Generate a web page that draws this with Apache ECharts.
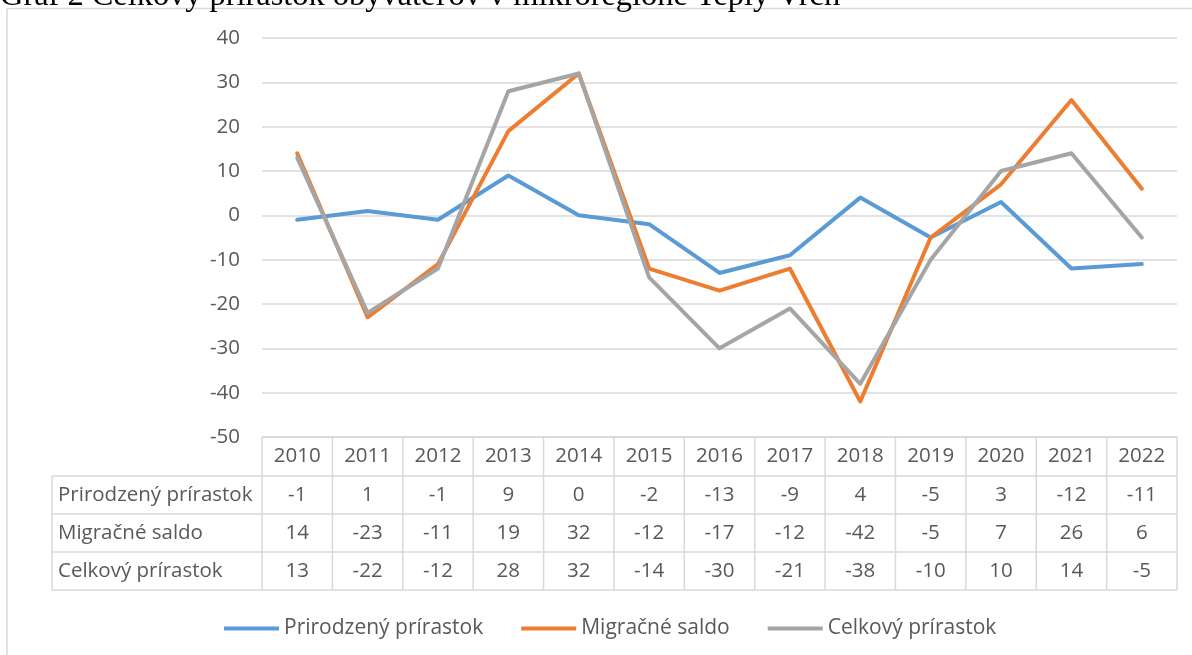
<!DOCTYPE html>
<html>
<head>
<meta charset="utf-8">
<script src="https://cdn.jsdelivr.net/npm/echarts@6/dist/echarts.min.js"></script>
<style>
  html, body { margin: 0; padding: 0; background: #fff; }
  #chart { width: 1192px; height: 655px; }
</style>
</head>
<body>
<div id="chart"></div>
<script>
const years = ['2010', '2011', '2012', '2013', '2014', '2015', '2016', '2017', '2018', '2019', '2020', '2021', '2022']
const prirodzeny = [-1, 1, -1, 9, 0, -2, -13, -9, 4, -5, 3, -12, -11]
const migracne = [14, -23, -11, 19, 32, -12, -17, -12, -42, -5, 7, 26, 6]
const celkovy = [13, -22, -12, 28, 32, -14, -30, -21, -38, -10, 10, 14, -5]
const seriesNames = ['Prirodzený prírastok', 'Migračné saldo', 'Celkový prírastok']
const colors = ['#5b9bd5', '#ed7d31', '#a5a5a5']
const yTicks = { min: -50, max: 40, interval: 10 }

const FONT = '"Open Sans", Lato, sans-serif'
const TXT = '#595959'
const BORDER = '#d9d9d9'

const chart = echarts.init(document.getElementById('chart'))
const lineSeries = [prirodzeny, migracne, celkovy].map((data, i) => ({
  name: seriesNames[i],
  type: 'line',
  data: data,
  symbol: 'none',
  lineStyle: { width: 4, color: colors[i], cap: 'round', join: 'round' },
  itemStyle: { color: colors[i] },
}))

chart.setOption({
  animation: false,
  grid: { left: 262, right: 15, top: 38, bottom: 218 },
  xAxis: {
    type: 'category',
    data: years,
    boundaryGap: true,
    axisLine: { show: false },
    axisTick: { show: false },
    axisLabel: { show: false },
  },
  yAxis: {
    type: 'value',
    min: yTicks.min,
    max: yTicks.max,
    interval: yTicks.interval,
    axisLabel: { fontSize: 20.5, color: TXT, fontFamily: FONT, margin: 22 },
    splitLine: { lineStyle: { color: BORDER, width: 1.5 } },
  },
  legend: {
    left: 219,
    top: 613,
    icon: 'rect',
    itemWidth: 55,
    itemHeight: 4,
    itemGap: 38,
    textStyle: { fontSize: 21, color: TXT, fontFamily: FONT },
  },
  series: lineSeries,
})

// data table under the plot, placed from the axis scale
const xs = years.map((_, i) => chart.convertToPixel({ xAxisIndex: 0 }, i))
const half = (xs[1] - xs[0]) / 2
const xL = xs[0] - half
const xR = xs[xs.length - 1] + half
const yTop = chart.convertToPixel({ yAxisIndex: 0 }, yTicks.min)
const rowY = [yTop, yTop + 39, yTop + 77, yTop + 115, yTop + 153]
const labelX = 52
const g = []
const line = (x1, y1, x2, y2) => g.push({ type: 'line', shape: { x1, y1, x2, y2 }, style: { stroke: BORDER, lineWidth: 1.5 }, silent: true })
const text = (x, y, s, align) => g.push({ type: 'text', x, y, style: { text: s, fill: TXT, font: '20.5px ' + FONT, align: align || 'center', verticalAlign: 'middle' }, silent: true })

line(xL, rowY[0], xR, rowY[0])
for (let r = 1; r < rowY.length; r++) line(labelX, rowY[r], xR, rowY[r])
for (let c = 0; c <= years.length; c++) line(xL + c * half * 2, rowY[0], xL + c * half * 2, rowY[4])
line(labelX, rowY[1], labelX, rowY[4])

years.forEach((y, i) => text(xs[i], (rowY[0] + rowY[1]) / 2, y))
;[prirodzeny, migracne, celkovy].forEach((arr, r) => {
  text(labelX + 6, (rowY[r + 1] + rowY[r + 2]) / 2, seriesNames[r], 'left')
  arr.forEach((v, i) => text(xs[i], (rowY[r + 1] + rowY[r + 2]) / 2, String(v)))
})

// outer chart frame and the cut-off caption above it
g.push({ type: 'rect', shape: { x: 7, y: 8.5, width: 1200, height: 700 }, style: { fill: 'none', stroke: BORDER, lineWidth: 1.5 }, silent: true, z: -1 })
g.push({ type: 'text', x: 0, y: 12, style: { text: 'Graf 2 Celkový prírastok obyvateľov v mikroregióne Teplý Vrch', fill: '#000', font: '32.4px "Liberation Serif", "DejaVu Serif", serif', align: 'left', verticalAlign: 'bottom' }, silent: true })

chart.setOption({ graphic: g })
</script>
</body>
</html>
